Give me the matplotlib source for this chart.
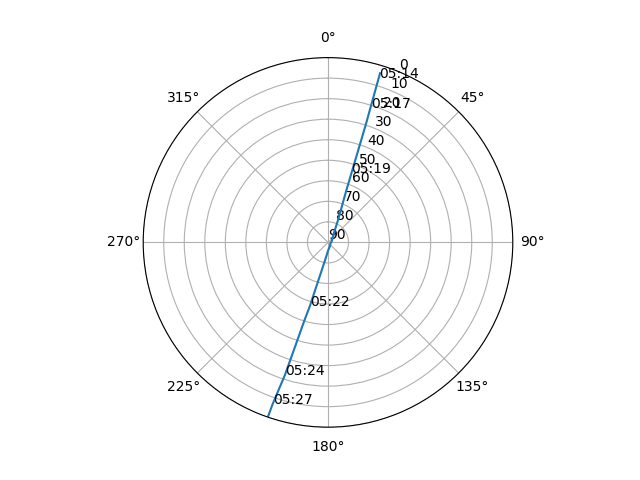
import numpy as np
import matplotlib
matplotlib.use("Agg")
import matplotlib.pyplot as plt

# satellite pass track (azimuth deg, elevation deg)
pass_az = [17.1, 17.8, 19.4, 24.2, 35.5, 70.0, 107.0, 150.0, 177.8, 189.3, 195.9, 196.8, 197.6, 198.0, 198.9, 199.0]
pass_el = [3.8, 30.1, 63.0, 78.1, 85.6, 88.0, 88.7, 88.0, 86.3, 81.3, 57.8, 50.5, 35.0, 22.1, 6.8, 0.3]

# time marks along the pass
mark_times = ["05:14", "05:17", "05:19", "05:22", "05:24", "05:27"]
mark_az = [17.3, 17.7, 18.8, 195.9, 198.0, 198.9]
mark_el = [6.3, 21.3, 54.5, 57.8, 22.1, 6.8]

fig = plt.figure(figsize=(6.4, 4.8), dpi=100)
ax = fig.add_subplot(projection="polar")
ax.set_theta_zero_location("N")
ax.set_theta_direction(-1)

ax.plot(np.radians(pass_az), pass_el)
for t, az, el in zip(mark_times, mark_az, mark_el):
    ax.text(np.radians(az), el, t)

ax.set_yticks(range(0, 91, 10))
ax.set_ylim(90, 0)

fig.savefig("out.png")
